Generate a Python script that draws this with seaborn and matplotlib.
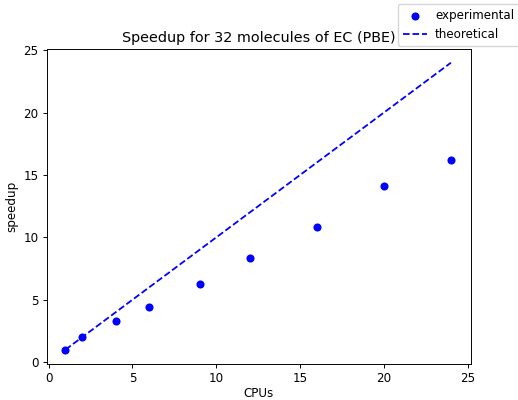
import matplotlib
matplotlib.use("Agg")
import matplotlib.pyplot as plt
import seaborn as sns
import pandas as pd

cpus = [1, 2, 4, 6, 9, 12, 16, 20, 24]
speedup = [1.0, 2.0, 3.3, 4.4, 6.3, 8.35, 10.85, 14.15, 16.2]
theo_cpus = [1, 24]
theo_speedup = [1, 24]

k = 0.86
plt.rcParams.update({
    "font.size": 10 * k,
    "axes.titlesize": 12 * k,
    "axes.linewidth": 0.8 * k,
    "xtick.major.width": 0.8 * k,
    "ytick.major.width": 0.8 * k,
    "xtick.major.size": 3.5 * k,
    "ytick.major.size": 3.5 * k,
    "xtick.major.pad": 3.5 * k,
    "ytick.major.pad": 3.5 * k,
    "axes.titlepad": 6 * k,
    "axes.labelpad": 4 * k,
})

df = pd.DataFrame({"CPUs": cpus, "speedup": speedup})
dft = pd.DataFrame({"CPUs": theo_cpus, "speedup": theo_speedup})

fig = plt.figure(figsize=(5.18, 4.0), dpi=100)
ax = fig.add_axes([47/518, 1-364/400, (471-47)/518, (364-49)/400])

sns.scatterplot(data=df, x="CPUs", y="speedup", ax=ax, color="blue", s=34,
                edgecolor="blue", linewidth=0, label="experimental", legend=False)
sns.lineplot(data=dft, x="CPUs", y="speedup", ax=ax, color="blue", linestyle="--",
             linewidth=1.5 * k, label="theoretical", legend=False)

ax.set_xlim(-0.1, 25.2)
ax.set_ylim(-0.15, 25.1)
ax.set_xticks([0, 5, 10, 15, 20, 25])
ax.set_yticks([0, 5, 10, 15, 20, 25])
ax.set_xlabel("CPUs", labelpad=1)
ax.set_ylabel("speedup")
ax.set_title("Speedup for 32 molecules of EC (PBE)")
fig.legend(loc="upper left", bbox_to_anchor=(398/518, 1 - 4/400),
           borderaxespad=0, handletextpad=0.7)

fig.savefig("out.png", dpi=100)
